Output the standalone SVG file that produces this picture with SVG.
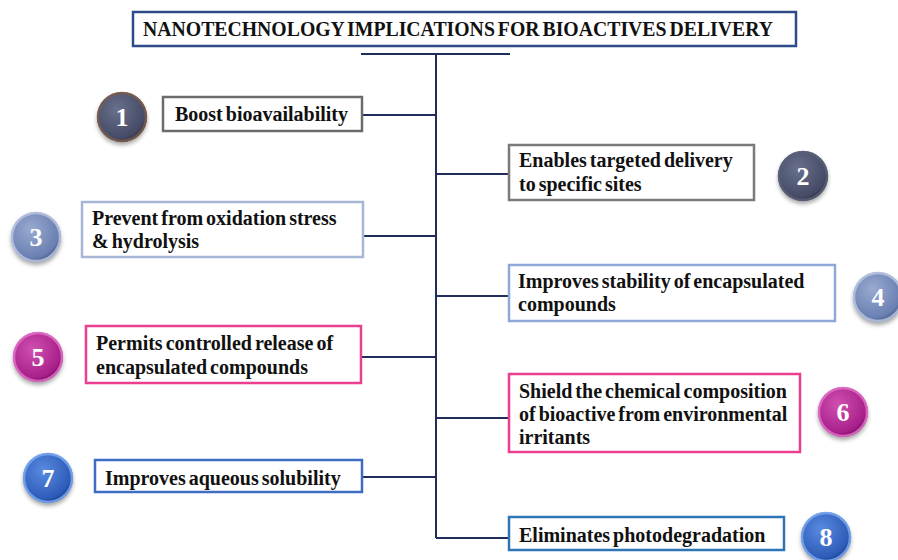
<svg xmlns="http://www.w3.org/2000/svg" width="898" height="560" viewBox="0 0 898 560">
<defs>
<style>
.t{font-family:"Liberation Serif","Times New Roman",serif;font-weight:bold;font-size:20px;word-spacing:-2px;fill:#111}
.n{font-family:"Liberation Serif","Times New Roman",serif;font-weight:bold;font-size:26px;fill:#fff;text-anchor:middle}
.box{fill:#fff;stroke-width:2.5}
.ln{stroke:#1f2d5a;stroke-width:2;fill:none}
.rim{fill:none;stroke-width:2.5;stroke-opacity:0.85}
</style>
<radialGradient id="gDark" cx="0.4" cy="0.35" r="0.7"><stop offset="0" stop-color="#68708c"/><stop offset="0.8" stop-color="#464c66"/><stop offset="1" stop-color="#2c3044"/></radialGradient>
<radialGradient id="gSlate" cx="0.4" cy="0.35" r="0.7"><stop offset="0" stop-color="#9aaad0"/><stop offset="0.8" stop-color="#6a80b2"/><stop offset="1" stop-color="#40507c"/></radialGradient>
<radialGradient id="gMag" cx="0.4" cy="0.35" r="0.7"><stop offset="0" stop-color="#d050b0"/><stop offset="0.8" stop-color="#a8208a"/><stop offset="1" stop-color="#6a0a56"/></radialGradient>
<radialGradient id="gBlue" cx="0.4" cy="0.35" r="0.7"><stop offset="0" stop-color="#5a8ae0"/><stop offset="0.8" stop-color="#2d5cb8"/><stop offset="1" stop-color="#163880"/></radialGradient>
<filter id="sh" x="-30%" y="-30%" width="160%" height="170%"><feDropShadow dx="0" dy="3" stdDeviation="2" flood-color="#000" flood-opacity="0.35"/></filter>
</defs>
<g id="connectors">
<line class="ln" x1="361" y1="54" x2="510" y2="54"/>
<line class="ln" x1="436" y1="54" x2="436" y2="538"/>
<line class="ln" x1="362" y1="115" x2="436" y2="115"/>
<line class="ln" x1="436" y1="174" x2="509" y2="174"/>
<line class="ln" x1="363" y1="236" x2="436" y2="236"/>
<line class="ln" x1="436" y1="296" x2="509" y2="296"/>
<line class="ln" x1="361" y1="357" x2="436" y2="357"/>
<line class="ln" x1="436" y1="418" x2="509" y2="418"/>
<line class="ln" x1="362" y1="477" x2="436" y2="477"/>
<line class="ln" x1="436" y1="538" x2="509" y2="538"/>
</g>
<g id="title">
<rect class="box" x="133" y="12" width="663" height="34" stroke="#2f4b8c"/>
<text class="t" x="143" y="36" font-size="17" textLength="630" lengthAdjust="spacingAndGlyphs">NANOTECHNOLOGY IMPLICATIONS FOR BIOACTIVES DELIVERY</text>
</g>
<g id="node1">
<circle cx="122" cy="117" r="25" fill="url(#gDark)" filter="url(#sh)"/>
<circle class="rim" cx="122" cy="117" r="24" stroke="#7a5a4a"/>
<text class="n" x="122" y="126">1</text>
<rect class="box" x="163" y="97" width="199" height="34" stroke="#6b6b6b"/>
<text class="t" x="175" y="121">Boost bioavailability</text>
</g>
<g id="node2">
<circle cx="803" cy="176" r="25" fill="url(#gDark)" filter="url(#sh)"/>
<circle class="rim" cx="803" cy="176" r="24" stroke="#5a5f78"/>
<text class="n" x="803" y="185">2</text>
<rect class="box" x="509" y="145" width="245" height="55" stroke="#7a7a7a"/>
<text class="t" x="519" y="167">Enables targeted delivery</text>
<text class="t" x="519" y="191">to specific sites</text>
</g>
<g id="node3">
<circle cx="36" cy="237" r="25" fill="url(#gSlate)" filter="url(#sh)"/>
<circle class="rim" cx="36" cy="237" r="24" stroke="#b8c4e0"/>
<text class="n" x="36" y="246">3</text>
<rect class="box" x="82" y="202" width="281" height="55" stroke="#a8b6d6"/>
<text class="t" x="92" y="225">Prevent from oxidation stress</text>
<text class="t" x="92" y="248">&amp; hydrolysis</text>
</g>
<g id="node4">
<circle cx="878" cy="297" r="25" fill="url(#gSlate)" filter="url(#sh)"/>
<circle class="rim" cx="878" cy="297" r="24" stroke="#b8c4e0"/>
<text class="n" x="878" y="306">4</text>
<rect class="box" x="509" y="265" width="326" height="56" stroke="#8fa8d8"/>
<text class="t" x="518" y="288">Improves stability of encapsulated</text>
<text class="t" x="518" y="311">compounds</text>
</g>
<g id="node5">
<circle cx="38" cy="357" r="25" fill="url(#gMag)" filter="url(#sh)"/>
<circle class="rim" cx="38" cy="357" r="24" stroke="#e070c8"/>
<text class="n" x="38" y="366">5</text>
<rect class="box" x="86" y="326" width="275" height="57" stroke="#ec3d8e"/>
<text class="t" x="96" y="350">Permits controlled release of</text>
<text class="t" x="96" y="374">encapsulated compounds</text>
</g>
<g id="node6">
<circle cx="843" cy="412" r="25" fill="url(#gMag)" filter="url(#sh)"/>
<circle class="rim" cx="843" cy="412" r="24" stroke="#e070c8"/>
<text class="n" x="843" y="421">6</text>
<rect class="box" x="509" y="374" width="291" height="78" stroke="#ec3d8e"/>
<text class="t" x="519" y="398">Shield the chemical composition</text>
<text class="t" x="519" y="421">of bioactive from environmental</text>
<text class="t" x="519" y="444">irritants</text>
</g>
<g id="node7">
<circle cx="48" cy="478" r="25" fill="url(#gBlue)" filter="url(#sh)"/>
<circle class="rim" cx="48" cy="478" r="24" stroke="#7aa8f0"/>
<text class="n" x="48" y="487">7</text>
<rect class="box" x="95" y="460" width="267" height="32" stroke="#3d6cc0"/>
<text class="t" x="105" y="485">Improves aqueous solubility</text>
</g>
<g id="node8">
<circle cx="826" cy="537" r="25" fill="url(#gBlue)" filter="url(#sh)"/>
<circle class="rim" cx="826" cy="537" r="24" stroke="#7aa8f0"/>
<text class="n" x="826" y="546">8</text>
<rect class="box" x="509" y="517" width="275" height="33" stroke="#2e75b6"/>
<text class="t" x="519" y="542">Eliminates photodegradation</text>
</g>
</svg>
